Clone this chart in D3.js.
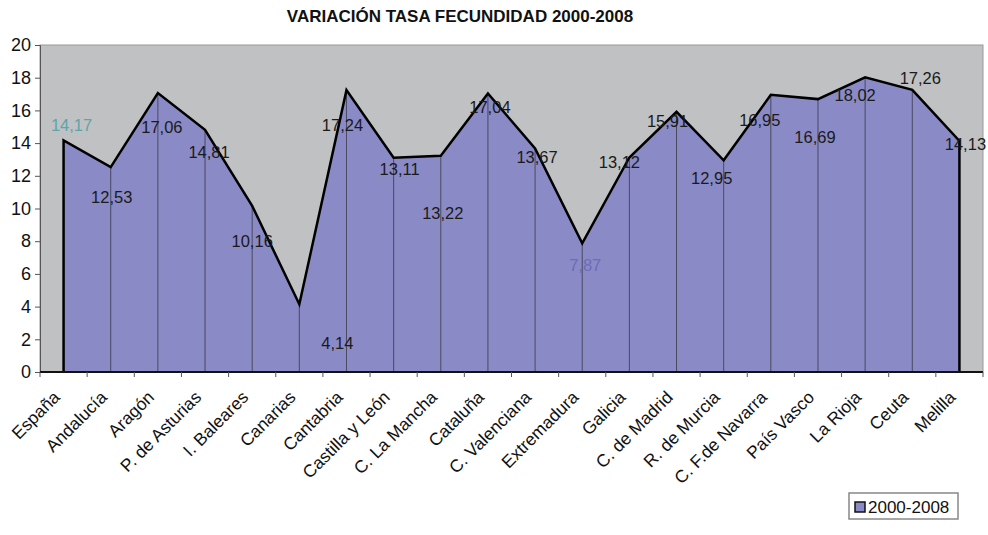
<!DOCTYPE html>
<html><head><meta charset="utf-8">
<script src="https://cdn.jsdelivr.net/npm/d3@7"></script>
<style>body{margin:0;background:#fff;} text{font-family:"Liberation Sans",Arial,sans-serif;}</style>
</head><body>
<svg id="c" width="988" height="535"></svg>
<script>
const categories = ["España","Andalucía","Aragón","P. de Asturias","I. Baleares","Canarias","Cantabria","Castilla y León","C. La Mancha","Cataluña","C. Valenciana","Extremadura","Galicia","C. de Madrid","R. de Murcia","C. F.de Navarra","País Vasco","La Rioja","Ceuta","Melilla"];
const values = [14.17,12.53,17.06,14.81,10.16,4.14,17.24,13.11,13.22,17.04,13.67,7.87,13.12,15.91,12.95,16.95,16.69,18.02,17.26,14.13];
const valueLabels = ["14,17","12,53","17,06","14,81","10,16","4,14","17,24","13,11","13,22","17,04","13,67","7,87","13,12","15,91","12,95","16,95","16,69","18,02","17,26","14,13"];
const yTicks = [0,2,4,6,8,10,12,14,16,18,20];
const seriesName = "2000-2008";
const title = "VARIACIÓN TASA FECUNDIDAD 2000-2008";
// layout: label nudges (px) relative to each point, as placed in the original
const labelNudge = [[8,-15],[1,30],[4,34],[4,22],[0,35],[38,39],[-4,35],[6,12],[2,57],[2,14],[2,9],[3,22],[-10,5],[-9,9],[-12,18],[-11,25],[-3,38],[-10,18],[8,-12],[6,3]];
const labelColor = i => i===0 ? "#5aa6a8" : (i===11 ? "#6c6cb8" : "#1a1a1a");

const svg = d3.select("#c");
const L=40, R=983, T=45, B=372;
const x = d3.scaleBand().domain(categories).range([L,R]).padding(0);
const cx = c => x(c) + x.bandwidth()/2;
const y = d3.scaleLinear().domain([0,20]).range([B,T]);

svg.append("text").attr("x",460).attr("y",22).attr("text-anchor","middle")
  .attr("font-size",17).attr("font-weight","bold").attr("fill","#111").text(title);

svg.append("rect").attr("x",L).attr("y",T).attr("width",R-L).attr("height",B-T)
  .attr("fill","#c0c1c3").attr("stroke","#9a9a9a").attr("stroke-width",1);

const data = categories.map((c,i)=>({c,v:values[i],i}));
const area = d3.area().x(d=>cx(d.c)).y0(B).y1(d=>y(d.v));
svg.append("path").datum(data).attr("d",area).attr("fill","#8a8ac6");

// drop lines
svg.selectAll("line.drop").data(data.slice(1,-1)).enter().append("line")
  .attr("x1",d=>cx(d.c)).attr("x2",d=>cx(d.c)).attr("y1",d=>y(d.v)).attr("y2",B)
  .attr("stroke","#4a4a5e").attr("stroke-width",1);

// outline
const first=data[0], last=data[data.length-1];
const outline = d3.line().x(d=>d[0]).y(d=>d[1]);
const pts = [[cx(first.c),B]].concat(data.map(d=>[cx(d.c),y(d.v)])).concat([[cx(last.c),B]]);
svg.append("path").attr("d",outline(pts)).attr("fill","none").attr("stroke","#000")
  .attr("stroke-width",2.5).attr("stroke-linejoin","miter");

// axes
const yAxis = d3.axisLeft(y).tickValues(yTicks).tickSize(5).tickPadding(4).tickFormat(d3.format("d"));
const gy = svg.append("g").attr("transform",`translate(${L},0)`).call(yAxis);
gy.select(".domain").attr("stroke","#555");
gy.selectAll(".tick line").attr("stroke","#555");
gy.selectAll(".tick text").attr("font-size",18).attr("fill","#111").style("font-family","Liberation Sans, Arial, sans-serif");

svg.append("line").attr("x1",L).attr("x2",R).attr("y1",B).attr("y2",B).attr("stroke","#111").attr("stroke-width",2);
const bounds = categories.map(c=>x(c)).concat([R]);
svg.selectAll("line.xt").data(bounds).enter().append("line")
  .attr("x1",d=>d).attr("x2",d=>d).attr("y1",B).attr("y2",B+5).attr("stroke","#555");

svg.selectAll("text.xl").data(categories).enter().append("text")
  .attr("transform",c=>`translate(${cx(c)-7},${B+22}) rotate(-45)`)
  .attr("text-anchor","end").attr("dy","0.35em").attr("font-size",17.5).attr("fill","#111").text(c=>c);

// data labels
svg.selectAll("text.vl").data(data).enter().append("text")
  .attr("x",d=>cx(d.c)+labelNudge[d.i][0]).attr("y",d=>y(d.v)+labelNudge[d.i][1])
  .attr("text-anchor","middle").attr("dy","0.35em").attr("font-size",16.5)
  .attr("fill",d=>labelColor(d.i)).text(d=>valueLabels[d.i]);

// legend
const lg = svg.append("g");
lg.append("rect").attr("x",849).attr("y",493).attr("width",109).attr("height",26).attr("fill","#fff").attr("stroke","#888").attr("stroke-width",1.5);
lg.append("rect").attr("x",855).attr("y",502).attr("width",10).attr("height",10).attr("fill","#8a8ac6").attr("stroke","#111").attr("stroke-width",1.5);
lg.append("text").attr("x",868).attr("y",507).attr("dy","0.35em").attr("font-size",17).attr("fill","#111").text(seriesName);
</script>
</body></html>
